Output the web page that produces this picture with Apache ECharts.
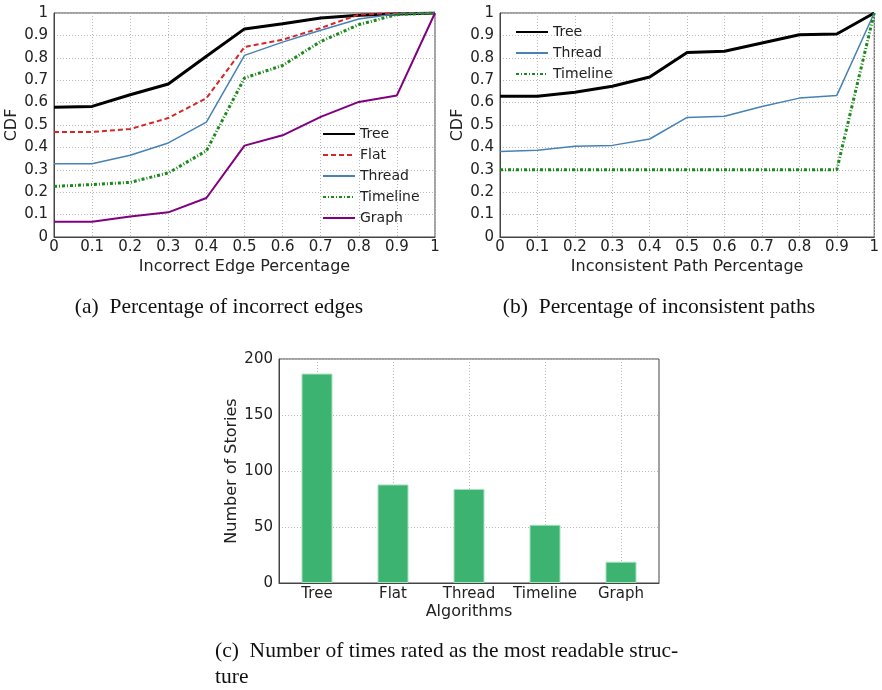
<!DOCTYPE html>
<html>
<head>
<meta charset="utf-8">
<script src="https://cdn.jsdelivr.net/npm/echarts@6/dist/echarts.min.js"></script>
<style>html,body{margin:0;padding:0;background:#fff}#c{width:882px;height:690px}</style>
</head>
<body>
<div id="c"></div>
<script>
const xPct = [0, 0.1, 0.2, 0.3, 0.4, 0.5, 0.6, 0.7, 0.8, 0.9, 1];

// (a) Incorrect edge percentage CDF
const edgeTree     = [0.579, 0.583, 0.635, 0.683, 0.807, 0.929, 0.952, 0.978, 0.99, 0.995, 1.0];
const edgeFlat     = [0.469, 0.469, 0.482, 0.531, 0.62, 0.848, 0.881, 0.933, 0.993, 1.0, 1.0];
const edgeThread   = [0.327, 0.327, 0.365, 0.42, 0.513, 0.811, 0.87, 0.923, 0.973, 0.997, 1.0];
const edgeTimeline = [0.226, 0.234, 0.244, 0.286, 0.385, 0.71, 0.766, 0.873, 0.948, 0.993, 1.0];
const edgeGraph    = [0.068, 0.068, 0.092, 0.11, 0.174, 0.408, 0.454, 0.536, 0.603, 0.632, 1.0];

// (b) Inconsistent path percentage CDF
const pathTree     = [0.628, 0.628, 0.646, 0.673, 0.714, 0.824, 0.829, 0.866, 0.903, 0.906, 1.0];
const pathThread   = [0.382, 0.387, 0.405, 0.409, 0.4375, 0.534, 0.539, 0.583, 0.62, 0.632, 1.0];
const pathTimeline = [0.3, 0.3, 0.3, 0.3, 0.3, 0.3, 0.3, 0.3, 0.3, 0.3, 1.0];

// (c) Most readable structure counts
const algorithms = ['Tree', 'Flat', 'Thread', 'Timeline', 'Graph'];
const storyCounts = [187, 88, 84, 52, 19];

const pair = ys => xPct.map((x, i) => [x, ys[i]]);

const styles = {
  Tree:     {color: '#000000', width: 3, type: 'solid'},
  Flat:     {color: '#d62728', width: 2, type: [5, 3]},
  Thread:   {color: '#4682b4', width: 1.5, type: 'solid'},
  Timeline: {color: '#1a8a1a', width: 3, type: [3, 2, 1, 2]},
  Graph:    {color: '#800080', width: 2, type: 'solid'}
};
function lineSeries(name, ys, idx) {
  const s = styles[name];
  return {
    name, type: 'line', xAxisIndex: idx, yAxisIndex: idx, data: pair(ys),
    symbol: 'none', showSymbol: false, silent: true, animation: false,
    lineStyle: {color: s.color, width: s.width, type: s.type},
    itemStyle: {color: s.color}
  };
}

const FONT = 'DejaVu Sans';
const GRID_C = '#b8b8b8';
const gridLine = {show: true, lineStyle: {color: GRID_C, type: [1, 2], width: 1}};
const axisLineS = {show: true, lineStyle: {color: '#444', width: 1}};
const fmt = v => (v === 0 ? '0' : v === 1 ? '1' : (+v).toFixed(1));

function pctX(idx, name) {
  return {
    type: 'value', gridIndex: idx, min: 0, max: 1, interval: 0.1,
    name, nameLocation: 'middle', nameGap: 22,
    nameTextStyle: {fontFamily: FONT, fontSize: 16, color: '#222'},
    axisLine: axisLineS, axisTick: {show: false},
    axisLabel: {formatter: fmt, fontFamily: FONT, fontSize: 15, color: '#222', margin: 3},
    splitLine: gridLine
  };
}
function pctY(idx) {
  return {
    type: 'value', gridIndex: idx, min: 0, max: 1, interval: 0.1,
    name: 'CDF', nameLocation: 'middle', nameGap: 34,
    nameTextStyle: {fontFamily: FONT, fontSize: 16, color: '#222'},
    axisLine: axisLineS, axisTick: {show: false},
    axisLabel: {formatter: fmt, fontFamily: FONT, fontSize: 15, color: '#222', margin: 6},
    splitLine: gridLine
  };
}

const legendCommon = {
  orient: 'vertical', itemWidth: 32, itemHeight: 14, itemGap: 7,
  textStyle: {fontFamily: FONT, fontSize: 14, color: '#222'},
  itemStyle: {opacity: 0, borderWidth: 0},
  padding: [2, 4, 2, 2], selectedMode: false
};

const CAP_FONT = '21.5px "Liberation Serif", "DejaVu Serif", serif';

const option = {
  backgroundColor: '#fff',
  animation: false,
  grid: [
    {left: 54, top: 13, width: 381, height: 224, show: true, borderColor: '#444', borderWidth: 1},
    {left: 500, top: 13, width: 380, height: 224, show: true, borderColor: '#444', borderWidth: 1},
    {left: 279, top: 359, width: 380, height: 224, show: true, borderColor: '#444', borderWidth: 1}
  ],
  xAxis: [
    pctX(0, 'Incorrect Edge Percentage'),
    pctX(1, 'Inconsistent Path Percentage'),
    {
      type: 'category', gridIndex: 2, data: algorithms, boundaryGap: true,
      name: 'Algorithms', nameLocation: 'middle', nameGap: 21,
      nameTextStyle: {fontFamily: FONT, fontSize: 16, color: '#222'},
      axisLine: axisLineS, axisTick: {show: false},
      axisLabel: {fontFamily: FONT, fontSize: 15, color: '#222', margin: 4, interval: 0},
      splitLine: {show: false}
    },
    {
      type: 'value', gridIndex: 2, min: 0, max: 10, interval: 1,
      show: true, axisLine: {show: false}, axisTick: {show: false}, axisLabel: {show: false},
      splitLine: {show: true, lineStyle: {color: ['rgba(0,0,0,0)', GRID_C], type: [1, 2], width: 1}},
      position: 'bottom', offset: 0
    }
  ],
  yAxis: [
    pctY(0),
    pctY(1),
    {
      type: 'value', gridIndex: 2, min: 0, max: 200, interval: 50,
      name: 'Number of Stories', nameLocation: 'middle', nameGap: 39,
      nameTextStyle: {fontFamily: FONT, fontSize: 16, color: '#222'},
      axisLine: axisLineS, axisTick: {show: false},
      axisLabel: {fontFamily: FONT, fontSize: 15, color: '#222', margin: 6},
      splitLine: gridLine
    }
  ],
  legend: [
    Object.assign({left: 320, top: 125, data: ['Tree', 'Flat', 'Thread', 'Timeline', 'Graph']}, legendCommon),
    Object.assign({left: 513, top: 23, data: ['Tree', 'Thread', 'Timeline']}, legendCommon)
  ],
  series: [
    lineSeries('Tree', edgeTree, 0),
    lineSeries('Flat', edgeFlat, 0),
    lineSeries('Thread', edgeThread, 0),
    lineSeries('Timeline', edgeTimeline, 0),
    lineSeries('Graph', edgeGraph, 0),
    lineSeries('Tree', pathTree, 1),
    lineSeries('Thread', pathThread, 1),
    lineSeries('Timeline', pathTimeline, 1),
    {
      name: 'Stories', type: 'bar', xAxisIndex: 2, yAxisIndex: 2, data: storyCounts,
      barWidth: 31, silent: true,
      itemStyle: {color: '#3cb371', borderColor: '#a8e0bd', borderWidth: 1}
    }
  ],
  graphic: [
    {type: 'text', x: 219, y: 307, style: {text: '(a)  Percentage of incorrect edges', font: CAP_FONT, fill: '#111', textAlign: 'center', textVerticalAlign: 'middle'}},
    {type: 'text', x: 659, y: 307, style: {text: '(b)  Percentage of inconsistent paths', font: CAP_FONT, fill: '#111', textAlign: 'center', textVerticalAlign: 'middle'}},
    {type: 'text', x: 215, y: 651, style: {text: '(c)  Number of times rated as the most readable struc-', font: CAP_FONT, fill: '#111', textAlign: 'left', textVerticalAlign: 'middle'}},
    {type: 'text', x: 215, y: 677, style: {text: 'ture', font: CAP_FONT, fill: '#111', textAlign: 'left', textVerticalAlign: 'middle'}}
  ]
};

const chart = echarts.init(document.getElementById('c'), null, {renderer: 'canvas'});
chart.setOption(option);
</script>
</body>
</html>
